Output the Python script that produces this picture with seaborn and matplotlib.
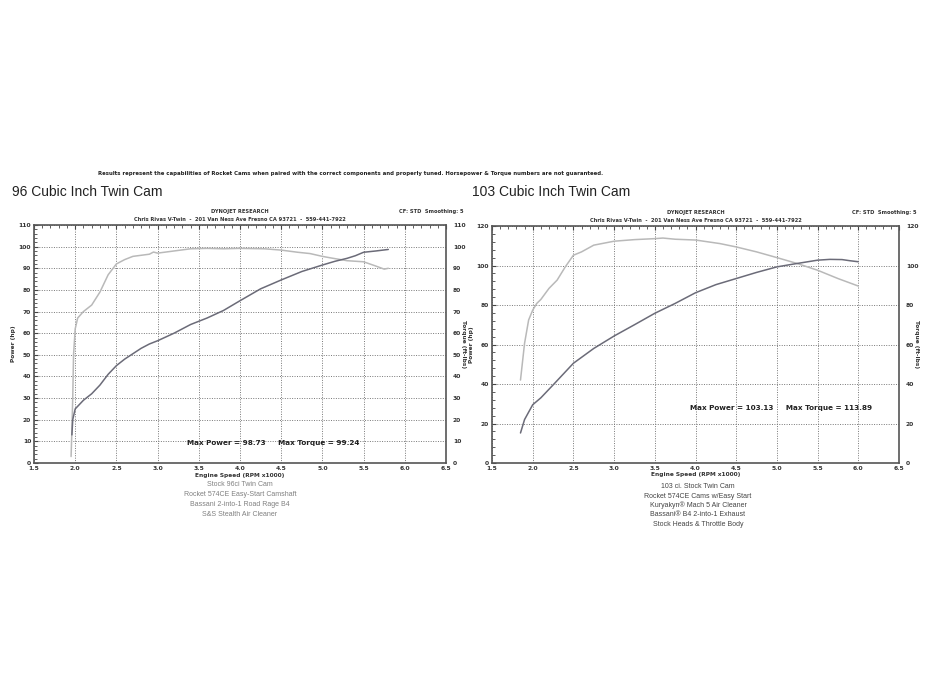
import numpy as np
import pandas as pd
import seaborn as sns
import matplotlib.pyplot as plt
from matplotlib.ticker import MultipleLocator

# 96ci dyno run
rpm96_hp = [1.96, 1.97, 2.0, 2.1, 2.2, 2.3, 2.4, 2.5, 2.6, 2.7, 2.8, 2.9, 3.0, 3.2, 3.4, 3.6,
            3.8, 4.0, 4.25, 4.5, 4.75, 5.0, 5.15, 5.3, 5.4, 5.5, 5.65, 5.8]
hp96 = [13, 20, 25, 29, 32, 36, 41, 45, 48, 50.5, 53, 55, 56.5, 60, 64, 67,
        70.5, 75, 80.5, 84.6, 88.5, 91.5, 93.2, 94.6, 95.8, 97.4, 98.0, 98.7]
rpm96_tq = [1.95, 1.96, 1.97, 1.98, 2.0, 2.03, 2.1, 2.2, 2.3, 2.4, 2.5, 2.6, 2.7, 2.8, 2.9,
            2.95, 3.0, 3.2, 3.4, 3.6, 3.8, 4.0, 4.3, 4.5, 4.7, 4.85, 5.0, 5.1, 5.3, 5.5,
            5.65, 5.75, 5.8]
tq96 = [3, 15, 30, 50, 62, 67, 70, 73, 79, 87, 92, 94, 95.5, 96, 96.5,
        97.5, 97, 98, 99, 99.2, 99, 99.2, 99, 98.4, 97.4, 96.8, 95.5, 94.8, 93.5, 93,
        91, 89.6, 90]

# 103ci dyno run
rpm103_hp = [1.85, 1.9, 2.0, 2.1, 2.25, 2.5, 2.75, 3.0, 3.25, 3.5, 3.75, 4.0, 4.25, 4.5,
             4.75, 5.0, 5.2, 5.5, 5.65, 5.8, 5.9, 6.0]
hp103 = [15.2, 22, 29.5, 33, 39.5, 50.5, 58, 64.3, 70, 75.8, 80.8, 86.2, 90.3, 93.4,
         96.5, 99.3, 100.7, 102.7, 103.1, 103, 102.4, 101.9]
rpm103_tq = [1.85, 1.9, 1.95, 2.0, 2.05, 2.1, 2.2, 2.3, 2.4, 2.5, 2.6, 2.75, 3.0, 3.25,
             3.5, 3.6, 3.75, 4.0, 4.3, 4.5, 4.75, 5.0, 5.25, 5.5, 5.75, 6.0]
tq103 = [42, 60.6, 72.4, 77.4, 80.8, 82.8, 88.4, 92.6, 99.3, 105.2, 106.9, 110.3, 112.3, 113.1,
         113.6, 113.9, 113.3, 112.9, 111.1, 109.4, 106.9, 104.0, 101, 97.6, 93.4, 89.6]

captions96 = ["Stock 96ci Twin Cam", "Rocket 574CE Easy-Start Camshaft",
              "Bassani 2-into-1 Road Rage B4", "S&S Stealth Air Cleaner"]
captions103 = ["103 ci. Stock Twin Cam", "Rocket 574CE Cams w/Easy Start",
               "Kuryakyn\u00ae Mach 5 Air Cleaner", "Bassani\u00ae B4 2-into-1 Exhaust",
               "Stock Heads & Throttle Body"]

sns.set_style("white")
plt.rcParams['font.family'] = ['DejaVu Sans']

fig = plt.figure(figsize=(9.33, 7), dpi=100)

TQ_COLOR = "#b9b9b9"
HP_COLOR = "#6b6b78"
TXT = "#333333"


def dyno_panel(rect, ymax, ystep, yminor, rpm_hp, hp, rpm_tq, tq, maxtxt, maxpos):
    ax = fig.add_axes(rect)
    sns.lineplot(x=rpm_tq, y=tq, ax=ax, color=TQ_COLOR, lw=1.1, sort=False, estimator=None)
    sns.lineplot(x=rpm_hp, y=hp, ax=ax, color=HP_COLOR, lw=1.1, sort=False, estimator=None)
    ax.set_xlim(1.5, 6.5)
    ax.set_ylim(0, ymax)
    ax.xaxis.set_major_locator(MultipleLocator(0.5))
    ax.xaxis.set_minor_locator(MultipleLocator(0.1))
    ax.yaxis.set_major_locator(MultipleLocator(ystep))
    ax.yaxis.set_minor_locator(MultipleLocator(yminor))
    ax.set_xticklabels([f"{v:.1f}" for v in ax.get_xticks()])
    ax.grid(True, which="major", ls=(0, (1, 1.5)), color="#777777", lw=0.7)
    for s in ax.spines.values():
        s.set_color("#555555")
        s.set_linewidth(1.2)
    ax.tick_params(which="both", direction="in", color="#444444", labelsize=4.3,
                   pad=2, top=True, right=True)
    ax.tick_params(which="major", length=3)
    ax.tick_params(which="minor", length=2)
    for lab in ax.get_xticklabels() + ax.get_yticklabels():
        lab.set_fontweight("bold")
        lab.set_color(TXT)
    ax.set_xlabel("Engine Speed (RPM x1000)", fontsize=4.2, fontweight="bold", color=TXT)
    ax.xaxis.set_label_coords(0.5, -0.04)
    ax.set_ylabel("Power (hp)", fontsize=4.2, fontweight="bold", color=TXT)
    ax.yaxis.set_label_coords(-0.044, 0.5)

    ax2 = ax.twinx()
    ax2.set_ylim(0, ymax)
    ax2.yaxis.set_major_locator(MultipleLocator(ystep))
    ax2.tick_params(direction="in", length=0, labelsize=4.3, pad=5)
    for lab in ax2.get_yticklabels():
        lab.set_fontweight("bold")
        lab.set_color(TXT)
    ax2.set_ylabel("Torque (ft-lbs)", rotation=-90, fontsize=4.2, fontweight="bold",
                   color=TXT, va="center")
    ax2.yaxis.set_label_coords(1.042, 0.5)
    for s in ax2.spines.values():
        s.set_visible(False)

    ax.text(maxpos[0], maxpos[1], maxtxt, ha="center", va="center", fontsize=5.2,
            fontweight="bold", color="#222222")

    ax.text(0.5, 1.055, "DYNOJET RESEARCH", transform=ax.transAxes, ha="center", va="center",
            fontsize=3.7, fontweight="bold", color=TXT)
    ax.text(0.5, 1.022, "Chris Rivas V-Twin  -  201 Van Ness Ave Fresno CA 93721  -  559-441-7922",
            transform=ax.transAxes, ha="center", va="center", fontsize=3.7,
            fontweight="bold", color=TXT)
    ax.text(1.042, 1.058, "CF: STD  Smoothing: 5", transform=ax.transAxes, ha="right",
            va="center", fontsize=3.7, fontweight="bold", color=TXT)
    return ax


axL = dyno_panel([34 / 933, 1 - 463 / 700, 412 / 933, 238 / 700], 110, 10, 2,
                 rpm96_hp, hp96, rpm96_tq, tq96,
                 "Max Power = 98.73     Max Torque = 99.24", (4.4, 9.2))
axR = dyno_panel([492 / 933, 1 - 463 / 700, 407 / 933, 237 / 700], 120, 20, 4,
                 rpm103_hp, hp103, rpm103_tq, tq103,
                 "Max Power = 103.13     Max Torque = 113.89", (5.05, 27.8))

for i, c in enumerate(captions96):
    fig.text(240 / 933, 1 - (484 + 10 * i) / 700, c, ha="center", va="center",
             fontsize=5, color="#808080", family="Liberation Sans")
for i, c in enumerate(captions103):
    fig.text(698 / 933, 1 - (487 + 9.3 * i) / 700, c, ha="center", va="center",
             fontsize=5, color="#444444", family="Liberation Sans")

fig.text(351 / 933, 1 - 174 / 700,
         "Results represent the capabilities of Rocket Cams when paired with the correct components "
         "and properly tuned. Horsepower & Torque numbers are not guaranteed.",
         ha="center", va="center", fontsize=3.9, fontweight="bold", color="#222222")
fig.text(12 / 933, 1 - 192 / 700, "96 Cubic Inch Twin Cam", ha="left", va="center",
         fontsize=10, color="#222222", family="Liberation Sans")
fig.text(472 / 933, 1 - 192 / 700, "103 Cubic Inch Twin Cam", ha="left", va="center",
         fontsize=10, color="#222222", family="Liberation Sans")

fig.savefig("out.png", dpi=100, facecolor="white")
